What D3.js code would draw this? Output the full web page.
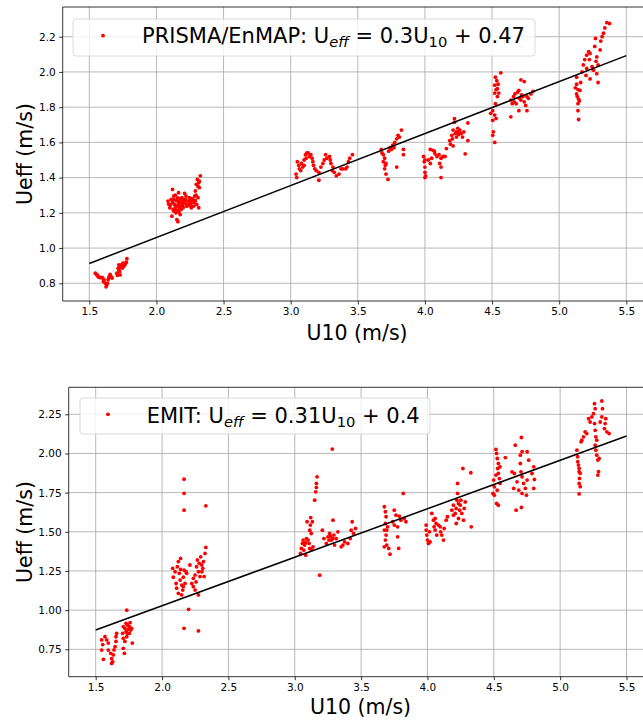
<!DOCTYPE html>
<html><head><meta charset="utf-8">
<script src="https://cdn.jsdelivr.net/npm/d3@7"></script>
<style>body{margin:0;background:#fff} svg{display:block} text{font-family:"DejaVu Sans",sans-serif}</style>
</head><body><svg id="c" width="643" height="722"></svg>
<script>
// ---------------- DATA ----------------
const xTicks = [1.5, 2.0, 2.5, 3.0, 3.5, 4.0, 4.5, 5.0, 5.5];
const prismaYTicks = [0.8, 1.0, 1.2, 1.4, 1.6, 1.8, 2.0, 2.2];
const emitYTicks = [0.75, 1.00, 1.25, 1.50, 1.75, 2.00, 2.25];
const fitRange = [1.5, 5.5];
const prismaSlope = 0.295, prismaIntercept = 0.47;
const emitSlope = 0.3095, emitIntercept = 0.409;

const prismaPoints = [
 [1.545,0.857],[1.553,0.850],[1.56,0.848],[1.565,0.838],[1.572,0.835],[1.58,0.832],[1.59,0.834],[1.60,0.83],[1.605,0.81],[1.61,0.82],[1.62,0.80],[1.625,0.78],[1.63,0.79],[1.635,0.80],[1.64,0.82],[1.645,0.83],[1.65,0.84],[1.655,0.85],[1.66,0.84],[1.67,0.83],
 [1.705,0.857],[1.71,0.845],[1.715,0.886],[1.72,0.905],[1.72,0.876],[1.725,0.867],[1.73,0.848],[1.73,0.895],[1.735,0.90],[1.74,0.905],[1.745,0.886],[1.75,0.914],[1.755,0.895],[1.76,0.905],[1.765,0.905],[1.77,0.914],[1.775,0.92],[1.78,0.94],
 [2.086,1.267],[2.09,1.25],[2.10,1.229],[2.11,1.276],[2.115,1.181],[2.12,1.333],[2.12,1.26],[2.125,1.22],[2.128,1.295],[2.128,1.21],[2.135,1.248],[2.14,1.229],[2.14,1.30],[2.145,1.2],[2.15,1.27],[2.152,1.162],[2.155,1.24],[2.16,1.21],[2.16,1.15],[2.165,1.314],[2.165,1.255],[2.17,1.267],[2.172,1.225],[2.177,1.238],[2.177,1.19],[2.18,1.28],[2.185,1.22],[2.19,1.286],[2.195,1.245],[2.20,1.23],[2.203,1.257],[2.21,1.31],[2.212,1.27],[2.215,1.276],[2.22,1.295],[2.22,1.25],
 [2.105,1.245],[2.132,1.275],[2.148,1.215],[2.158,1.285],[2.168,1.205],[2.188,1.258],[2.198,1.275],
 [2.227,1.238],[2.235,1.267],[2.24,1.25],[2.245,1.286],[2.25,1.27],[2.255,1.24],[2.26,1.257],[2.26,1.229],[2.265,1.28],[2.27,1.276],[2.276,1.238],[2.28,1.26],[2.285,1.295],[2.29,1.324],[2.29,1.27],[2.295,1.30],[2.297,1.362],[2.30,1.248],[2.305,1.39],[2.31,1.286],[2.31,1.35],[2.315,1.371],[2.315,1.229],[2.32,1.343],[2.32,1.38],[2.327,1.41],
 [3.04,1.42],[3.045,1.40],[3.05,1.49],[3.06,1.47],[3.065,1.45],[3.075,1.44],[3.08,1.48],[3.09,1.46],[3.10,1.47],[3.10,1.50],[3.11,1.53],[3.115,1.51],[3.12,1.54],[3.13,1.54],[3.14,1.52],[3.15,1.53],[3.16,1.51],[3.165,1.49],[3.17,1.47],[3.18,1.45],[3.19,1.44],[3.21,1.385],[3.21,1.43],[3.225,1.46],[3.24,1.48],[3.25,1.50],[3.26,1.53],[3.27,1.51],[3.29,1.52],[3.295,1.50],[3.30,1.48],[3.31,1.44],[3.315,1.46],[3.325,1.43],[3.34,1.41],[3.36,1.42],[3.375,1.45],[3.39,1.45],[3.41,1.45],[3.42,1.46],[3.43,1.49],[3.44,1.51],[3.46,1.53],
 [3.675,1.56],[3.68,1.54],[3.69,1.53],[3.69,1.49],[3.70,1.51],[3.70,1.45],[3.705,1.47],[3.71,1.48],[3.71,1.42],[3.725,1.39],[3.73,1.55],[3.74,1.57],[3.75,1.56],[3.76,1.585],[3.77,1.57],[3.775,1.60],[3.79,1.46],[3.79,1.62],[3.80,1.64],[3.81,1.63],[3.825,1.67],[3.84,1.56],[3.84,1.53],
 [3.99,1.52],[3.995,1.49],[4.0,1.46],[4.0,1.43],[4.0,1.40],[4.005,1.41],[4.0,1.50],[4.025,1.50],[4.04,1.56],[4.04,1.48],[4.05,1.51],[4.06,1.555],[4.07,1.55],[4.075,1.535],[4.09,1.52],[4.105,1.53],[4.11,1.48],[4.12,1.51],[4.12,1.46],[4.12,1.40],[4.135,1.52],[4.15,1.52],
 [4.16,1.565],[4.185,1.61],[4.19,1.59],[4.2,1.64],[4.205,1.62],[4.21,1.67],[4.21,1.58],[4.22,1.715],[4.22,1.735],[4.225,1.65],[4.235,1.66],[4.235,1.63],[4.245,1.68],[4.25,1.645],[4.255,1.66],[4.26,1.67],[4.27,1.65],[4.28,1.63],[4.29,1.66],[4.30,1.535],[4.32,1.71],[4.32,1.61],
 [4.49,1.765],[4.505,1.78],[4.505,1.725],[4.505,1.64],[4.51,1.66],[4.52,1.925],[4.52,1.88],[4.52,1.755],[4.52,1.60],[4.525,1.97],[4.525,1.82],[4.53,1.90],[4.53,1.735],[4.535,1.95],[4.54,1.905],[4.54,1.86],[4.545,1.93],[4.55,1.88],[4.565,1.995],
 [4.64,1.84],[4.64,1.745],[4.65,1.82],[4.66,1.86],[4.665,1.83],[4.67,1.875],[4.68,1.82],[4.69,1.885],[4.70,1.895],[4.70,1.78],[4.705,1.85],[4.715,1.955],[4.715,1.84],[4.72,1.87],[4.73,1.86],[4.74,1.945],[4.74,1.83],[4.75,1.81],[4.76,1.86],[4.76,1.78],[4.77,1.85],[4.79,1.875],[4.805,1.89],
 [5.12,1.91],[5.13,1.97],[5.13,1.93],[5.13,1.875],[5.135,1.86],[5.14,1.90],[5.14,1.82],[5.14,1.78],[5.145,1.845],[5.145,1.73],[5.15,1.835],[5.155,1.895],[5.16,1.94],
 [5.17,2.0],[5.18,2.04],[5.19,2.07],[5.20,1.98],[5.205,2.095],[5.205,2.02],[5.22,2.115],[5.225,2.07],[5.23,2.105],[5.23,1.96],[5.245,2.03],[5.255,2.01],[5.265,2.145],[5.27,2.19],[5.275,2.06],[5.28,2.085],[5.28,1.99],[5.29,2.04],[5.29,1.94],[5.305,2.125],[5.31,2.175],[5.32,2.20],[5.33,2.22],[5.34,2.25],[5.355,2.28],[5.375,2.275]
];

const emitPoints = [
 [1.545,0.81],[1.553,0.78],[1.545,0.745],[1.558,0.686],[1.57,0.83],[1.583,0.81],[1.595,0.79],[1.595,0.745],[1.613,0.724],[1.62,0.69],[1.62,0.66],[1.628,0.67],[1.633,0.714],[1.638,0.746],[1.646,0.767],[1.653,0.80],[1.653,0.83],[1.658,0.852],
 [1.703,0.852],[1.708,0.82],[1.708,0.756],[1.708,0.895],[1.716,0.724],[1.72,0.884],[1.72,0.80],[1.729,0.863],[1.729,0.916],[1.734,1.0],[1.734,0.83],[1.739,0.905],[1.739,0.852],[1.746,0.878],[1.754,0.895],[1.754,0.852],[1.759,0.92],[1.764,0.873],[1.771,0.884],[1.776,0.79],
 [2.08,1.267],[2.085,1.21],[2.098,1.245],[2.106,1.17],[2.11,1.14],[2.115,1.277],[2.123,1.31],[2.123,1.107],[2.13,1.235],[2.136,1.192],[2.14,1.33],[2.14,1.26],[2.148,1.16],[2.148,1.097],[2.156,1.128],[2.16,1.21],[2.16,1.15],[2.166,1.256],[2.166,1.836],[2.166,1.745],[2.166,1.638],[2.166,0.884],[2.173,1.17],[2.18,1.245],[2.186,1.235],[2.20,1.005],[2.21,1.288],
 [2.224,1.17],[2.236,1.203],[2.236,1.15],[2.249,1.224],[2.249,1.128],[2.256,1.18],[2.26,1.277],[2.266,1.32],[2.274,1.245],[2.274,1.097],[2.274,0.867],[2.28,1.299],[2.286,1.214],[2.291,1.34],[2.299,1.288],[2.3,1.245],[2.307,1.267],[2.312,1.31],[2.317,1.214],[2.324,1.362],[2.33,1.40],[2.33,1.666],
 [3.043,1.362],[3.05,1.394],[3.058,1.426],[3.063,1.447],[3.068,1.383],[3.075,1.415],[3.08,1.43],[3.083,1.351],[3.088,1.457],[3.093,1.564],[3.1,1.447],[3.108,1.426],[3.113,1.51],[3.113,1.394],[3.118,1.543],[3.12,1.591],[3.125,1.489],[3.125,1.387],[3.133,1.564],[3.138,1.404],[3.15,1.702],[3.158,1.755],[3.163,1.809],[3.163,1.783],[3.168,1.851],[3.188,1.223],[3.283,2.028],
 [3.208,1.51],[3.22,1.457],[3.238,1.426],[3.25,1.468],[3.258,1.447],[3.263,1.489],[3.27,1.47],[3.275,1.447],[3.288,1.574],[3.288,1.457],[3.295,1.479],[3.3,1.415],[3.313,1.457],[3.325,1.5],[3.35,1.404],[3.363,1.415],[3.375,1.436],[3.4,1.426],[3.418,1.457],[3.425,1.51],[3.433,1.564],[3.443,1.489],[3.458,1.521],
 [3.675,1.66],[3.683,1.628],[3.688,1.596],[3.683,1.553],[3.675,1.511],[3.688,1.479],[3.683,1.447],[3.675,1.404],[3.693,1.415],[3.708,1.394],[3.718,1.357],[3.7,1.532],[3.693,1.511],[3.738,1.564],[3.75,1.638],[3.763,1.606],[3.75,1.543],[3.775,1.468],[3.783,1.394],[3.775,1.532],[3.788,1.6],[3.8,1.574],[3.818,1.745],[3.825,1.585],[3.838,1.564],
 [3.99,1.543],[3.99,1.511],[3.995,1.479],[4.0,1.447],[4.008,1.426],[4.015,1.5],[4.02,1.436],[4.033,1.617],[4.045,1.574],[4.05,1.532],[4.058,1.511],[4.058,1.585],[4.065,1.553],[4.07,1.479],[4.083,1.543],[4.096,1.532],[4.1,1.5],[4.108,1.479],[4.121,1.447],[4.126,1.521],[4.141,1.574],[4.151,1.596],
 [4.184,1.638],[4.196,1.67],[4.196,1.606],[4.209,1.617],[4.216,1.649],[4.217,1.553],[4.222,1.702],[4.227,1.745],[4.227,1.809],[4.234,1.585],[4.234,1.681],[4.242,1.638],[4.247,1.67],[4.252,1.702],[4.259,1.617],[4.267,1.904],[4.272,1.574],[4.277,1.649],[4.285,1.691],[4.327,1.877],[4.33,1.532],
 [4.494,1.745],[4.499,1.83],[4.504,1.787],[4.504,1.734],[4.516,2.026],[4.516,1.862],[4.521,2.0],[4.521,1.681],[4.526,1.968],[4.526,1.766],[4.529,1.904],[4.534,1.936],[4.534,1.872],[4.534,1.67],[4.542,1.84],[4.547,1.809],[4.547,1.915],[4.587,1.974],
 [4.637,1.883],[4.65,1.777],[4.655,1.872],[4.662,2.053],[4.668,1.638],[4.675,1.819],[4.688,1.766],[4.7,1.989],[4.7,1.936],[4.705,1.883],[4.708,2.102],[4.708,1.655],[4.713,2.011],[4.713,1.851],[4.713,1.745],[4.725,1.809],[4.738,1.777],[4.746,1.734],[4.751,2.011],[4.751,1.83],[4.763,1.957],[4.788,1.872],[4.801,1.915],[4.801,1.777],[4.806,1.834],
 [5.126,2.021],[5.131,1.979],[5.133,1.947],[5.138,1.926],[5.143,1.905],[5.143,1.884],[5.146,1.841],[5.143,1.809],[5.151,1.873],[5.151,1.788],[5.143,1.742],[5.158,2.074],[5.163,2.085],[5.176,2.106],[5.188,2.138],[5.2,2.127],
 [5.214,2.222],[5.226,2.201],[5.239,2.233],[5.251,2.254],[5.259,2.318],[5.264,2.286],[5.259,2.191],[5.264,2.148],[5.269,2.106],[5.276,2.085],[5.264,2.053],[5.269,2.021],[5.276,1.989],[5.284,1.958],[5.294,1.968],[5.289,1.884],[5.284,1.862],[5.302,2.201],[5.314,2.335],[5.319,2.286],[5.314,2.233],[5.344,2.222],[5.339,2.191],[5.334,2.159],[5.352,2.138],[5.369,2.127]
];

// ---------------- DRAW ----------------
const svg = d3.select("#c");

function panel(opt) {
  const x = d3.scaleLinear().domain([1.5, 5.5]).range(opt.xr);
  const y = d3.scaleLinear().domain(opt.yd).range(opt.yr);
  const L = opt.frame.left, R = opt.frame.right, T = opt.frame.top, B = opt.frame.bottom;
  const g = svg.append("g");
  const cid = "clip" + opt.id;
  g.append("clipPath").attr("id", cid).append("rect").attr("x", L).attr("y", T).attr("width", R - L).attr("height", B - T);

  const grid = g.append("g").attr("stroke", "#b0b0b0").attr("stroke-width", 0.9);
  grid.selectAll(".gx").data(xTicks).join("line")
    .attr("x1", d => x(d)).attr("x2", d => x(d)).attr("y1", T).attr("y2", B);
  grid.selectAll(".gy").data(opt.yTicks).join("line")
    .attr("y1", d => y(d)).attr("y2", d => y(d)).attr("x1", L).attr("x2", R);

  g.append("g").attr("clip-path", `url(#${cid})`).selectAll("circle").data(opt.points).join("circle")
    .attr("cx", d => x(d[0])).attr("cy", d => y(d[1])).attr("r", 1.9).attr("fill", "#ff0000");

  g.append("line").attr("x1", x(fitRange[0])).attr("y1", y(opt.slope * fitRange[0] + opt.intercept))
    .attr("x2", x(fitRange[1])).attr("y2", y(opt.slope * fitRange[1] + opt.intercept))
    .attr("stroke", "#000").attr("stroke-width", 1.5);

  const xa = g.append("g").attr("transform", `translate(0,${B})`)
    .call(d3.axisBottom(x).tickValues(xTicks).tickSize(3.5).tickPadding(3.5).tickFormat(d3.format(".1f")));
  const ya = g.append("g").attr("transform", `translate(${L},0)`)
    .call(d3.axisLeft(y).tickValues(opt.yTicks).tickSize(3.5).tickPadding(3.5).tickFormat(d3.format(opt.yfmt)));
  [xa, ya].forEach(a => {
    a.select(".domain").remove();
    a.selectAll("text").attr("font-family", "DejaVu Sans").attr("font-size", 10.5).attr("fill", "#000");
    a.selectAll("line").attr("stroke", "#000").attr("stroke-width", 0.8);
  });

  g.append("path").attr("d", `M${R},${T}H${L}V${B}H${R}`).attr("fill", "none").attr("stroke", "#000").attr("stroke-width", 0.8);

  g.append("text").attr("x", opt.xlabelX).attr("y", opt.xlabelY).attr("text-anchor", "middle")
    .attr("font-size", 20.5).text("U10 (m/s)");
  g.append("text").attr("transform", `translate(32,${(T + B) / 2}) rotate(-90)`).attr("text-anchor", "middle")
    .attr("font-size", 20.5).text("Ueff (m/s)");

  const lg = g.append("g");
  lg.append("rect").attr("x", opt.leg.x).attr("y", opt.leg.y).attr("width", opt.leg.w).attr("height", opt.leg.h)
    .attr("rx", 3).attr("fill", "#fff").attr("fill-opacity", 0.8).attr("stroke", "#d0d0d0").attr("stroke-width", 0.8);
  lg.append("circle").attr("cx", opt.leg.mx).attr("cy", opt.leg.my).attr("r", 1.9).attr("fill", "#ff0000");
  const t = lg.append("text").attr("x", opt.leg.tx).attr("y", opt.leg.ty).attr("font-size", 21).attr("fill", "#000");
  t.append("tspan").text(opt.name + ": U");
  t.append("tspan").attr("font-size", 14.7).attr("font-style", "oblique").attr("dy", 4).text("eff");
  t.append("tspan").attr("dy", -4).text(" = " + opt.slopeLabel + "U");
  t.append("tspan").attr("font-size", 14.7).attr("dy", 4).text("10");
  t.append("tspan").attr("dy", -4).text(" + " + opt.interceptLabel);
}

panel({
  id: "a", points: prismaPoints, slope: prismaSlope, intercept: prismaIntercept,
  xr: [89.3, 626.3], yd: [0.8, 2.2], yr: [283.3, 36.7], yTicks: prismaYTicks, yfmt: ".1f",
  frame: {left: 62.7, right: 660, top: 7, bottom: 301},
  xlabelX: 357, xlabelY: 340,
  name: "PRISMA/EnMAP", slopeLabel: "0.3", interceptLabel: "0.47",
  leg: {x: 73, y: 19, w: 462, h: 37, mx: 103, my: 35.7, tx: 142, ty: 43}
});
panel({
  id: "b", points: emitPoints, slope: emitSlope, intercept: emitIntercept,
  xr: [95.7, 626.5], yd: [0.75, 2.25], yr: [649.3, 414.3], yTicks: emitYTicks, yfmt: ".2f",
  frame: {left: 68.7, right: 660, top: 387.3, bottom: 676.7},
  xlabelX: 360.5, xlabelY: 714,
  name: "EMIT", slopeLabel: "0.31", interceptLabel: "0.4",
  leg: {x: 80, y: 398, w: 350, h: 36, mx: 108, my: 414.3, tx: 146.7, ty: 422.7}
});
</script></body></html>
